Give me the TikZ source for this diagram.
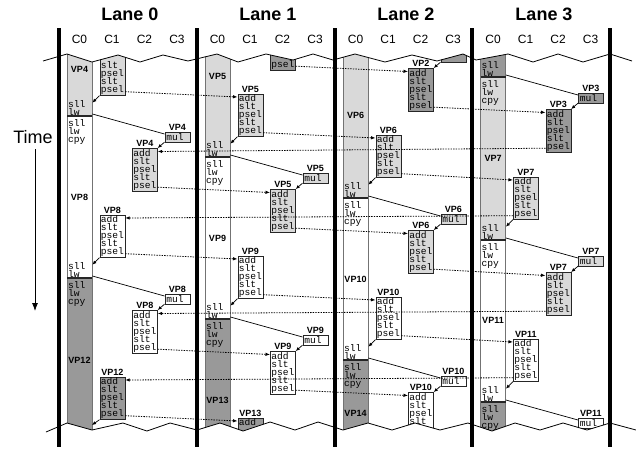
\documentclass[tikz,border=0pt]{standalone}
\usepackage{fontspec}
\setmainfont{Liberation Sans}
\newfontfamily\opfont{Liberation Mono}
\usepackage{tikz}
\usetikzlibrary{arrows.meta, positioning}
\definecolor{claro}{gray}{0.85}
\definecolor{oscuro}{gray}{0.6}
\newcommand{\opsize}{\opfont\fontsize{9.6}{8}\selectfont\lineskiplimit=-\maxdimen}
\newcommand{\cinco}{add\\slt\\psel\\slt\\psel}
\newcommand{\bordesup}{(43,61) -- (67,54) -- (92,62) -- (118,55) -- (140,62) -- (163,55) -- (188,61) -- (217,54) -- (238,62) -- (266,54) -- (293,60) -- (313,54) -- (333,60) -- (355,54) -- (385,62) -- (412,55) -- (437,61) -- (463,54) -- (476,60) -- (508,54) -- (533,62) -- (558,54) -- (583,62) -- (610,54) -- (632,61)}
\newcommand{\bordeinf}{(46,432) -- (67,423) -- (92,430) -- (123,423) -- (147,431) -- (170,423) -- (197,430) -- (220,423) -- (243,431) -- (270,422) -- (295,430) -- (318,422) -- (343,430) -- (368,423) -- (392,430) -- (415,423) -- (440,430) -- (468,423) -- (492,431) -- (515,423) -- (540,430) -- (563,423) -- (587,430) -- (610,423) -- (636,430)}
\tikzstyle{opbox} = [draw=black!85, fill=white, line width=0.7pt, anchor=north west, minimum width=25pt, minimum height=42.5pt, text width=23pt, inner xsep=1pt, inner ysep=0pt, align=left, font=\opsize]
\tikzstyle{mulbox} = [draw=black!85, fill=white, line width=0.7pt, anchor=north west, minimum width=25pt, minimum height=9.5pt, text width=22pt, inner xsep=1.5pt, inner ysep=0pt, align=left, font=\opsize]
\tikzstyle{bartext} = [inner xsep=1pt, inner ysep=0.5pt, text width=23pt, align=left, font=\opsize]
\tikzstyle{vplabel} = [font=\bfseries\fontsize{9}{9}\selectfont, inner sep=1pt]
\tikzstyle{barra} = [draw=black!55, line width=0.8pt]
\tikzstyle{corte} = [draw=black!85, line width=1.4pt]
\tikzstyle{linea} = [line width=0.7pt]
\tikzstyle{dep} = [line width=0.7pt, -{Latex[length=4pt,width=3.5pt]}]
\tikzstyle{msg} = [line width=0.8pt, dash pattern=on 1.4pt off 1.2pt, -{Latex[length=4.5pt,width=3.5pt]}]
\tikzstyle{carril} = [line width=3.5pt]
\tikzstyle{lanetitle} = [font=\bfseries\fontsize{18}{18}\selectfont]
\tikzstyle{coltitle} = [font=\fontsize{12}{12}\selectfont]

\begin{document}
\begin{tikzpicture}[x=1pt, y=-1pt]
	\useasboundingbox (0,0) rectangle (636,450);
	% titles
	\node[lanetitle] (h0) at (130,14) {Lane 0};
	\node[lanetitle] (h1) at (268,14) {Lane 1};
	\node[lanetitle] (h2) at (406,14) {Lane 2};
	\node[lanetitle] (h3) at (544,14) {Lane 3};
	\node[coltitle] (k00) at (79.5,39) {C0};
	\node[coltitle] (k01) at (112,39) {C1};
	\node[coltitle] (k02) at (144.5,39) {C2};
	\node[coltitle] (k03) at (177,39) {C3};
	\node[coltitle] (k10) at (217.5,39) {C0};
	\node[coltitle] (k11) at (250,39) {C1};
	\node[coltitle] (k12) at (282.5,39) {C2};
	\node[coltitle] (k13) at (315,39) {C3};
	\node[coltitle] (k20) at (355.5,39) {C0};
	\node[coltitle] (k21) at (388,39) {C1};
	\node[coltitle] (k22) at (420.5,39) {C2};
	\node[coltitle] (k23) at (453,39) {C3};
	\node[coltitle] (k30) at (493,39) {C0};
	\node[coltitle] (k31) at (525.5,39) {C1};
	\node[coltitle] (k32) at (558,39) {C2};
	\node[coltitle] (k33) at (590.5,39) {C3};
	% time axis
	\node[font=\fontsize{18}{18}\selectfont] (time) at (33,137) {Time};
	\coordinate (tini) at (35,149);
	\coordinate (tfin) at (35,311);
	\draw[line width=0.8pt, -{Latex[length=8pt,width=6pt]}] (tini) -- (tfin);

	\begin{scope}
	\clip \bordesup -- (636,61) -- (636,460) -- (0,460) -- (0,61) -- cycle;
	\clip \bordeinf -- (636,0) -- (0,0) -- (0,432) -- cycle;

	% lane 0
	\draw[barra, fill=claro] (67,30) rectangle (92,116);
	\draw[barra, fill=white] (67,116) rectangle (92,278);
	\draw[barra, fill=oscuro] (67,278) rectangle (92,445);
	\draw[corte] (67,116) -- (92,116);
	\draw[corte] (67,278) -- (92,278);
	\node[vplabel] (t0a) at (79.5,69) {VP4};
	\node[vplabel] (t0b) at (79.5,197) {VP8};
	\node[vplabel] (t0c) at (79.5,360) {VP12};
	\node[bartext, anchor=south west] (e0a) at (67,116) {sll\\lw};
	\node[bartext, anchor=north west] (s0a) at (67,118.5) {sll\\lw\\cpy};
	\node[bartext, anchor=south west] (e0b) at (67,278) {sll\\lw};
	\node[bartext, anchor=north west] (s0b) at (67,280.5) {sll\\lw\\cpy};
	\coordinate (e0c) at (92,425);
	\node[opbox, fill=claro] (c0a) at (99.5,52.5) {\phantom{add}\\slt\\psel\\slt\\psel};
	\node[opbox, label={[vplabel]above:VP8}] (c0b) at (99.5,214.5) {\cinco};
	\node[opbox, fill=oscuro, label={[vplabel]above:VP12}] (c0c) at (99.5,376.5) {\cinco};
	\node[mulbox, fill=claro, label={[vplabel]above:VP4}] (m0a) at (164.5,132) {mul};
	\node[mulbox, label={[vplabel]above:VP8}] (m0b) at (164.5,294) {mul};
	\node[opbox, fill=claro, label={[vplabel]above:VP4}] (d0a) at (132,148) {\cinco};
	\node[opbox, label={[vplabel]above:VP8}] (d0b) at (132,310) {\cinco};

	% lane 1
	\draw[barra, fill=claro] (205,30) rectangle (230,157);
	\draw[barra, fill=white] (205,157) rectangle (230,319);
	\draw[barra, fill=oscuro] (205,319) rectangle (230,445);
	\draw[corte] (205,157) -- (230,157);
	\draw[corte] (205,319) -- (230,319);
	\node[vplabel] (t1a) at (217.5,76) {VP5};
	\node[vplabel] (t1b) at (217.5,238) {VP9};
	\node[vplabel] (t1c) at (217.5,400) {VP13};
	\node[bartext, anchor=south west] (e1a) at (205,157) {sll\\lw};
	\node[bartext, anchor=north west] (s1a) at (205,159.5) {sll\\lw\\cpy};
	\node[bartext, anchor=south west] (e1b) at (205,319) {sll\\lw};
	\node[bartext, anchor=north west] (s1b) at (205,321.5) {sll\\lw\\cpy};
	\node[opbox, fill=claro, label={[vplabel]above:VP5}] (c1a) at (237.5,93.5) {\cinco};
	\node[opbox, label={[vplabel]above:VP9}] (c1b) at (237.5,255.5) {\cinco};
	\node[opbox, fill=oscuro, label={[vplabel]above:VP13}] (c1c) at (237.5,417.5) {add\\\phantom{slt}\\\phantom{psel}\\\phantom{slt}\\\phantom{psel}};
	\node[mulbox, fill=claro, label={[vplabel]above:VP5}] (m1a) at (302.5,173) {mul};
	\node[mulbox, label={[vplabel]above:VP9}] (m1b) at (302.5,335) {mul};
	\node[opbox, fill=oscuro] (d1z) at (270,27) {\phantom{add}\\\phantom{slt}\\\phantom{psel}\\\phantom{slt}\\psel};
	\node[opbox, fill=claro, label={[vplabel]above:VP5}] (d1a) at (270,189) {\cinco};
	\node[opbox, label={[vplabel]above:VP9}] (d1b) at (270,351) {\cinco};

	% lane 2
	\draw[barra, fill=claro] (343,30) rectangle (368,198);
	\draw[barra, fill=white] (343,198) rectangle (368,360);
	\draw[barra, fill=oscuro] (343,360) rectangle (368,445);
	\draw[corte] (343,198) -- (368,198);
	\draw[corte] (343,360) -- (368,360);
	\node[vplabel] (t2a) at (355.5,115) {VP6};
	\node[vplabel] (t2b) at (355.5,279) {VP10};
	\node[vplabel] (t2c) at (355.5,413) {VP14};
	\node[bartext, anchor=south west] (e2a) at (343,198) {sll\\lw};
	\node[bartext, anchor=north west] (s2a) at (343,200.5) {sll\\lw\\cpy};
	\node[bartext, anchor=south west] (e2b) at (343,360) {sll\\lw};
	\node[bartext, anchor=north west] (s2b) at (343,362.5) {sll\\lw\\cpy};
	\node[opbox, fill=claro, label={[vplabel]above:VP6}] (c2a) at (375.5,134.5) {\cinco};
	\node[opbox, label={[vplabel]above:VP10}] (c2b) at (375.5,296.5) {\cinco};
	\node[mulbox, fill=oscuro] (m2z) at (440.5,52) {\phantom{mul}};
	\node[mulbox, fill=claro, label={[vplabel]above:VP6}] (m2a) at (440.5,214) {mul};
	\node[mulbox, label={[vplabel]above:VP10}] (m2b) at (440.5,376) {mul};
	\node[opbox, fill=oscuro, label={[vplabel]above:VP2}] (d2z) at (408,68) {\cinco};
	\node[opbox, fill=claro, label={[vplabel]above:VP6}] (d2a) at (408,230) {\cinco};
	\node[opbox, label={[vplabel]above:VP10}] (d2b) at (408,392) {add\\slt\\psel\\slt\\\phantom{psel}};

	% lane 3
	\draw[barra, fill=oscuro] (480.5,30) rectangle (505.5,77);
	\draw[barra, fill=claro] (480.5,77) rectangle (505.5,240);
	\draw[barra, fill=white] (480.5,240) rectangle (505.5,402);
	\draw[barra, fill=oscuro] (480.5,402) rectangle (505.5,445);
	\draw[corte] (480.5,77) -- (505.5,77);
	\draw[corte] (480.5,240) -- (505.5,240);
	\draw[corte] (480.5,402) -- (505.5,402);
	\node[vplabel] (t3a) at (493,158) {VP7};
	\node[vplabel] (t3b) at (493,320) {VP11};
	\node[bartext, anchor=south west] (e3z) at (480.5,77) {sll\\lw};
	\node[bartext, anchor=north west] (s3a) at (480.5,79.5) {sll\\lw\\cpy};
	\node[bartext, anchor=south west] (e3a) at (480.5,240) {sll\\lw};
	\node[bartext, anchor=north west] (s3b) at (480.5,242.5) {sll\\lw\\cpy};
	\node[bartext, anchor=south west] (e3b) at (480.5,402) {sll\\lw};
	\node[bartext, anchor=north west] (s3c) at (480.5,404.5) {sll\\lw\\cpy};
	\node[opbox, fill=claro, label={[vplabel]above:VP7}] (c3a) at (513,176.5) {\cinco};
	\node[opbox, label={[vplabel]above:VP11}] (c3b) at (513,338.5) {\cinco};
	\node[mulbox, fill=oscuro, label={[vplabel]above:VP3}] (m3z) at (578,93) {mul};
	\node[mulbox, fill=claro, label={[vplabel]above:VP7}] (m3a) at (578,256) {mul};
	\node[mulbox, label={[vplabel]above:VP11}] (m3b) at (578,418) {mul};
	\node[opbox, fill=oscuro, label={[vplabel]above:VP3}] (d3z) at (545.5,109) {\cinco};
	\node[opbox, fill=claro, label={[vplabel]above:VP7}] (d3a) at (545.5,272) {\cinco};

	% lw -> mul
	\draw[linea] ([yshift=2pt]e0a.south east) -- ([yshift=-2pt]m0a.north west);
	\draw[linea] ([yshift=2pt]e0b.south east) -- ([yshift=-2pt]m0b.north west);
	\draw[linea] ([yshift=2pt]e1a.south east) -- ([yshift=-2pt]m1a.north west);
	\draw[linea] ([yshift=2pt]e1b.south east) -- ([yshift=-2pt]m1b.north west);
	\draw[linea] ([yshift=2pt]e2a.south east) -- ([yshift=-2pt]m2a.north west);
	\draw[linea] ([yshift=2pt]e2b.south east) -- ([yshift=-2pt]m2b.north west);
	\draw[linea] ([yshift=2pt]e3z.south east) -- ([yshift=-2pt]m3z.north west);
	\draw[linea] ([yshift=2pt]e3a.south east) -- ([yshift=-2pt]m3a.north west);
	\draw[linea] ([yshift=2pt]e3b.south east) -- ([yshift=-2pt]m3b.north west);
	% mul -> add
	\draw[dep] (m0a.south west) -- (d0a.north east);
	\draw[dep] (m0b.south west) -- (d0b.north east);
	\draw[dep] (m1a.south west) -- (d1a.north east);
	\draw[dep] (m1b.south west) -- (d1b.north east);
	\draw[dep] (m2z.south west) -- (d2z.north east);
	\draw[dep] (m2a.south west) -- (d2a.north east);
	\draw[dep] (m2b.south west) -- (d2b.north east);
	\draw[dep] (m3z.south west) -- (d3z.north east);
	\draw[dep] (m3a.south west) -- (d3a.north east);
	% psel -> sll
	\draw[dep] (c0a.south west) -- ([yshift=-3pt]e0a.north east);
	\draw[dep] (c0b.south west) -- ([yshift=-3pt]e0b.north east);
	\draw[dep] (c0c.south west) -- (e0c);
	\draw[dep] (c1a.south west) -- ([yshift=-3pt]e1a.north east);
	\draw[dep] (c1b.south west) -- ([yshift=-3pt]e1b.north east);
	\draw[dep] (c2a.south west) -- ([yshift=-3pt]e2a.north east);
	\draw[dep] (c2b.south west) -- ([yshift=-3pt]e2b.north east);
	\draw[dep] (c3a.south west) -- ([yshift=-3pt]e3a.north east);
	\draw[dep] (c3b.south west) -- ([yshift=-3pt]e3b.north east);
	% lane to lane
	\draw[msg] ([yshift=4pt]c0a.south east) -- ([yshift=-3.5pt]c1a.north west);
	\draw[msg] ([yshift=4pt]c1a.south east) -- ([yshift=-3.5pt]c2a.north west);
	\draw[msg] ([yshift=4pt]c2a.south east) -- ([yshift=-3.5pt]c3a.north west);
	\draw[msg] ([yshift=4pt]c3a.south west) -- ([yshift=-3.5pt]c0b.north east);
	\draw[msg] ([yshift=4pt]c0b.south east) -- ([yshift=-3.5pt]c1b.north west);
	\draw[msg] ([yshift=4pt]c1b.south east) -- ([yshift=-3.5pt]c2b.north west);
	\draw[msg] ([yshift=4pt]c2b.south east) -- ([yshift=-3.5pt]c3b.north west);
	\draw[msg] ([yshift=4pt]c3b.south west) -- ([yshift=-3.5pt]c0c.north east);
	\draw[msg] ([yshift=4pt]c0c.south east) -- ([yshift=-3.5pt]c1c.north west);
	\draw[msg] ([yshift=4pt]d1z.south east) -- ([yshift=-3.5pt]d2z.north west);
	\draw[msg] ([yshift=4pt]d2z.south east) -- ([yshift=-3.5pt]d3z.north west);
	\draw[msg] ([yshift=4pt]d3z.south west) -- ([yshift=-3.5pt]d0a.north east);
	\draw[msg] ([yshift=4pt]d0a.south east) -- ([yshift=-3.5pt]d1a.north west);
	\draw[msg] ([yshift=4pt]d1a.south east) -- ([yshift=-3.5pt]d2a.north west);
	\draw[msg] ([yshift=4pt]d2a.south east) -- ([yshift=-3.5pt]d3a.north west);
	\draw[msg] ([yshift=4pt]d3a.south west) -- ([yshift=-3.5pt]d0b.north east);
	\draw[msg] ([yshift=4pt]d0b.south east) -- ([yshift=-3.5pt]d1b.north west);
	\draw[msg] ([yshift=4pt]d1b.south east) -- ([yshift=-3.5pt]d2b.north west);
	\end{scope}

	% torn edges and lanes
	\draw[line width=0.8pt] \bordesup;
	\draw[line width=0.8pt] \bordeinf;
	\draw[carril] (59,28) -- (59,447);
	\draw[carril] (197,28) -- (197,447);
	\draw[carril] (335,28) -- (335,447);
	\draw[carril] (472,28) -- (472,447);
	\draw[carril] (610,28) -- (610,447);
\end{tikzpicture}
\end{document}
